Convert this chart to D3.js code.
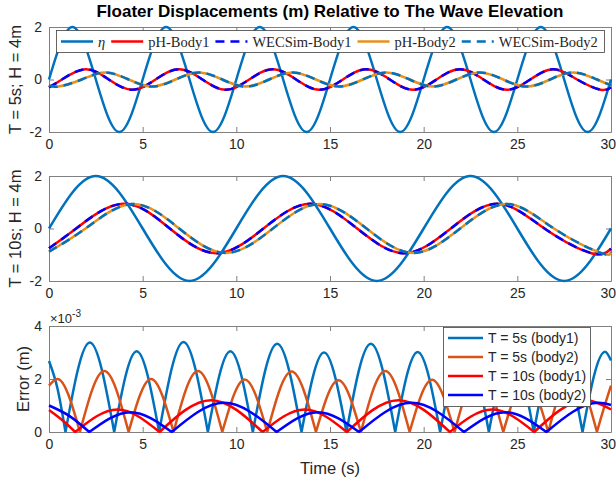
<!DOCTYPE html>
<html>
<head>
<meta charset="utf-8">
<script src="https://cdn.jsdelivr.net/npm/d3@7"></script>
<style>
body { margin: 0; background: #fff; }
text { font-family: "Liberation Sans", Arial, sans-serif; fill: #262626; }
</style>
</head>
<body>
<svg id="chart" width="616" height="482"></svg>
<script>
// ---- data ----
var timeTicks = [0, 5, 10, 15, 20, 25, 30];
var dispTicks = [-2, 0, 2];
var errTicks = [0, 2, 4];

// T = 5s panel: [time, displacement]
var etaT5 = [[0,0],[1.25,2],[2.5,0],[3.75,-2],[5,0],[6.25,2],[7.5,0],[8.75,-2],[10,0],[11.25,2],[12.5,0],[13.75,-2],[15,0],[16.25,2],[17.5,0],[18.75,-2],[20,0],[21.25,2],[22.5,0],[23.75,-2],[25,0],[26.25,2],[27.5,0],[28.75,-2],[30,0]];
var body1T5 = [[0,-0.3],[0.69,0],[1.94,0.39],[3.19,0],[4.44,-0.39],[5.69,0],[6.94,0.39],[8.19,0],[9.44,-0.39],[10.69,0],[11.94,0.39],[13.19,0],[14.44,-0.39],[15.69,0],[16.94,0.39],[18.19,0],[19.44,-0.39],[20.69,0],[21.94,0.39],[23.19,0],[24.44,-0.39],[25.69,0],[26.94,0.39],[28.19,0],[29.44,-0.39],[30,-0.3]];
var body2T5 = [[0,-0.22],[0.5,-0.27],[1.75,0],[3.0,0.27],[4.25,0],[5.5,-0.27],[6.75,0],[8.0,0.27],[9.25,0],[10.5,-0.27],[11.75,0],[13.0,0.27],[14.25,0],[15.5,-0.27],[16.75,0],[18.0,0.27],[19.25,0],[20.5,-0.27],[21.75,0],[23.0,0.27],[24.25,0],[25.5,-0.27],[26.75,0],[28.0,0.27],[29.25,0],[30,-0.22]];

// T = 10s panel
var etaT10 = [[0,0],[2.5,2],[5,0],[7.5,-2],[10,0],[12.5,2],[15,0],[17.5,-2],[20,0],[22.5,2],[25,0],[27.5,-2],[30,0]];
var body1T10 = [[0,-0.75],[1.45,0],[3.95,0.94],[6.45,0],[8.95,-0.94],[11.45,0],[13.95,0.94],[16.45,0],[18.95,-0.94],[21.45,0],[23.95,0.94],[26.45,0],[28.95,-0.94],[30,-0.77]];
var body2T10 = [[0,-0.88],[1.95,0],[4.45,0.93],[6.95,0],[9.45,-0.93],[11.95,0],[14.45,0.93],[16.95,0],[19.45,-0.93],[21.95,0],[24.45,0.93],[26.95,0],[29.45,-0.93],[30,-0.88]];

// error panel, values in 1e-3 m
var errT5Body1 = [[0,2.68],[0.45,1.65],[0.88,0],[2.18,3.38],[3.48,0],[4.68,3.05],[5.88,0],[7.18,3.4],[8.48,0],[9.68,3.05],[10.88,0],[12.18,3.33],[13.48,0],[14.68,3.0],[15.88,0],[17.18,3.33],[18.48,0],[19.68,3.02],[20.88,0],[22.18,3.33],[23.48,0],[24.68,3.02],[25.88,0],[27.18,3.33],[28.48,0],[29.68,3.03],[30,2.7]];
var errT5Body2 = [[0,1.75],[0.45,2.0],[1.65,0],[2.95,2.3],[4.25,0],[5.45,2.0],[6.65,0],[7.95,2.3],[9.25,0],[10.45,1.98],[11.65,0],[12.95,2.28],[14.25,0],[15.45,1.95],[16.65,0],[17.95,2.3],[19.25,0],[20.45,1.97],[21.65,0],[22.95,2.3],[24.25,0],[25.45,1.97],[26.65,0],[27.95,2.3],[29.25,0],[29.62,0.9],[30,1.75]];
var errT10Body1 = [[0,0.83],[0.7,0.45],[1.4,0],[3.65,0.85],[5.9,0],[8.65,1.2],[11.4,0],[13.65,0.85],[15.9,0],[18.65,1.2],[21.4,0],[23.65,0.85],[25.9,0],[28.65,1.2],[30,0.85]];
var errT10Body2 = [[0,1.0],[1.1,0.6],[2.15,0],[4.35,0.75],[6.55,0],[9.35,1.1],[12.15,0],[14.35,0.75],[16.55,0],[19.35,1.1],[22.15,0],[24.35,0.75],[26.55,0],[29.35,1.1],[30,1.02]];

var topLegendLabels = ['η', 'pH-Body1', 'WECSim-Body1', 'pH-Body2', 'WECSim-Body2'];
var errLegendLabels = ['T = 5s (body1)', 'T = 5s (body2)', 'T = 10s (body1)', 'T = 10s (body2)'];

// ---- layout ----
var plotLeft = 49, plotRight = 611;
var panels = [
	{ top: 27, bottom: 132, label: 'T = 5s; H = 4m', labelX: 21 },
	{ top: 176, bottom: 281, label: 'T = 10s; H = 4m', labelX: 21 },
	{ top: 326, bottom: 432, label: 'Error (m)', labelX: 29 }
];
var etaColor = '#0072bd';
var axisColor = '#808080';
var dash = '9,6';

var svg = d3.select('#chart');
var xScale = d3.scaleLinear().domain([0, 30]).range([plotLeft, plotRight]);
var plainFormat = function(d) { return String(d); };

function drawAxes(panel, yScale, yTicks) {
	var g = svg.append('g').attr('class', 'axes');
	var bottomAxis = g.append('g')
		.attr('transform', 'translate(0,' + panel.bottom + ')')
		.call(d3.axisBottom(xScale).tickValues(timeTicks).tickFormat(plainFormat)
			.tickSizeInner(-5).tickSizeOuter(0).tickPadding(7));
	g.append('g')
		.attr('transform', 'translate(0,' + panel.top + ')')
		.call(d3.axisTop(xScale).tickValues(timeTicks).tickSizeInner(-5).tickSizeOuter(0).tickFormat(''));
	g.append('g')
		.attr('transform', 'translate(' + plotLeft + ',0)')
		.call(d3.axisLeft(yScale).tickValues(yTicks).tickFormat(plainFormat)
			.tickSizeInner(-5).tickSizeOuter(0).tickPadding(7));
	g.append('g')
		.attr('transform', 'translate(' + plotRight + ',0)')
		.call(d3.axisRight(yScale).tickValues(yTicks).tickSizeInner(-5).tickSizeOuter(0).tickFormat(''));

	g.selectAll('.domain, .tick line').attr('stroke', axisColor);
	g.selectAll('.tick text').attr('font-size', 14).attr('font-family', null).style('fill', '#262626');
	// the last time label sits on the figure edge: keep it inside
	bottomAxis.selectAll('.tick text')
		.filter(function(d) { return d === 30; })
		.attr('text-anchor', 'end')
		.attr('x', 4.5);

	svg.append('text')
		.attr('transform', 'translate(' + panel.labelX + ',' + ((panel.top + panel.bottom) / 2) + ') rotate(-90)')
		.attr('text-anchor', 'middle')
		.attr('font-size', 16.5)
		.text(panel.label);
}

function drawLine(data, yScale, color, dashed, curve) {
	var line = d3.line()
		.x(function(d) { return xScale(d[0]); })
		.y(function(d) { return yScale(d[1]); })
		.curve(curve);
	svg.append('path')
		.datum(data)
		.attr('d', line)
		.attr('fill', 'none')
		.attr('stroke', color)
		.attr('stroke-width', 2.5)
		.attr('stroke-dasharray', dashed ? dash : null);
}

// the error curves are |x| shaped: split them into arches at the zero points
function drawArches(data, yScale, color) {
	var arches = [];
	var current = [];
	data.forEach(function(d) {
		current.push(d);
		if (d[1] === 0 && current.length > 1) {
			arches.push(current);
			current = [d];
		}
	});
	if (current.length > 1) arches.push(current);
	var line = d3.line()
		.x(function(d) { return xScale(d[0]); })
		.y(function(d) { return yScale(d[1]); })
		.curve(d3.curveMonotoneX);
	svg.append('path')
		.attr('d', arches.map(function(a) { return line(a); }).join(''))
		.attr('fill', 'none')
		.attr('stroke', color)
		.attr('stroke-width', 2.5)
		.attr('stroke-linejoin', 'round');
}

// title
svg.append('text')
	.attr('x', (plotLeft + plotRight) / 2)
	.attr('y', 17)
	.attr('text-anchor', 'middle')
	.attr('font-size', 17)
	.attr('font-weight', 'bold')
	.style('fill', '#000')
	.text('Floater Displacements (m) Relative to The Wave Elevation');

// ---- panel 1 & 2 ----
var series = [
	{ eta: etaT5, b1: body1T5, b2: body2T5 },
	{ eta: etaT10, b1: body1T10, b2: body2T10 }
];
series.forEach(function(s, i) {
	var panel = panels[i];
	var yScale = d3.scaleLinear().domain([-2, 2]).range([panel.bottom, panel.top]);
	drawAxes(panel, yScale, dispTicks);
	drawLine(s.eta, yScale, etaColor, false, d3.curveNatural);
	drawLine(s.b1, yScale, '#ff0000', false, d3.curveNatural);
	drawLine(s.b1, yScale, '#0000ff', true, d3.curveNatural);
	drawLine(s.b2, yScale, '#e8901c', false, d3.curveNatural);
	drawLine(s.b2, yScale, etaColor, true, d3.curveNatural);
});

// top legend, laid out from the text widths
var topLegend = svg.append('g');
topLegend.append('rect')
	.attr('x', 56.5).attr('y', 30.5).attr('width', 548).attr('height', 22)
	.attr('fill', '#fff').attr('stroke', '#404040').attr('stroke-width', 0.8);
var topItemStyle = [
	{ color: etaColor, dash: null },
	{ color: '#ff0000', dash: null },
	{ color: '#0000ff', dash: dash },
	{ color: '#e8901c', dash: null },
	{ color: etaColor, dash: dash }
];
var itemX = 61;
topLegendLabels.forEach(function(lab, i) {
	topLegend.append('line')
		.attr('x1', itemX).attr('x2', itemX + 32)
		.attr('y1', 41.5).attr('y2', 41.5)
		.attr('stroke', topItemStyle[i].color)
		.attr('stroke-width', 2.5)
		.attr('stroke-dasharray', topItemStyle[i].dash);
	var t = topLegend.append('text')
		.attr('x', itemX + 37).attr('y', 46.5)
		.attr('font-size', 14.5)
		.style('font-family', '"Liberation Serif", "Times New Roman", serif')
		.style('font-style', i === 0 ? 'italic' : 'normal')
		.text(lab);
	itemX += 37 + t.node().getComputedTextLength() + 6;
});

// ---- panel 3 ----
var errPanel = panels[2];
var errScale = d3.scaleLinear().domain([0, 4]).range([errPanel.bottom, errPanel.top]);
drawAxes(errPanel, errScale, errTicks);
var errSeries = [
	{ data: errT5Body1, color: '#0072bd' },
	{ data: errT5Body2, color: '#d95319' },
	{ data: errT10Body1, color: '#ff0000' },
	{ data: errT10Body2, color: '#0000ff' }
];
errSeries.forEach(function(s) { drawArches(s.data, errScale, s.color); });

var expo = svg.append('text').attr('x', 50).attr('y', 323).attr('font-size', 13);
expo.append('tspan').text('×10');
expo.append('tspan').attr('dy', -6).attr('font-size', 10).text('-3');

var errLegend = svg.append('g');
errLegend.append('rect')
	.attr('x', 443.5).attr('y', 327.5).attr('width', 147).attr('height', 79)
	.attr('fill', '#fff').attr('stroke', '#404040').attr('stroke-width', 0.8);
errLegendLabels.forEach(function(lab, i) {
	var y = 338 + i * 19;
	errLegend.append('line')
		.attr('x1', 448).attr('x2', 483)
		.attr('y1', y).attr('y2', y)
		.attr('stroke', errSeries[i].color)
		.attr('stroke-width', 2.5);
	errLegend.append('text')
		.attr('x', 488).attr('y', y + 5)
		.attr('font-size', 14)
		.text(lab);
});

// x label
svg.append('text')
	.attr('x', (plotLeft + plotRight) / 2)
	.attr('y', 474)
	.attr('text-anchor', 'middle')
	.attr('font-size', 16.5)
	.text('Time (s)');
</script>
</body>
</html>
